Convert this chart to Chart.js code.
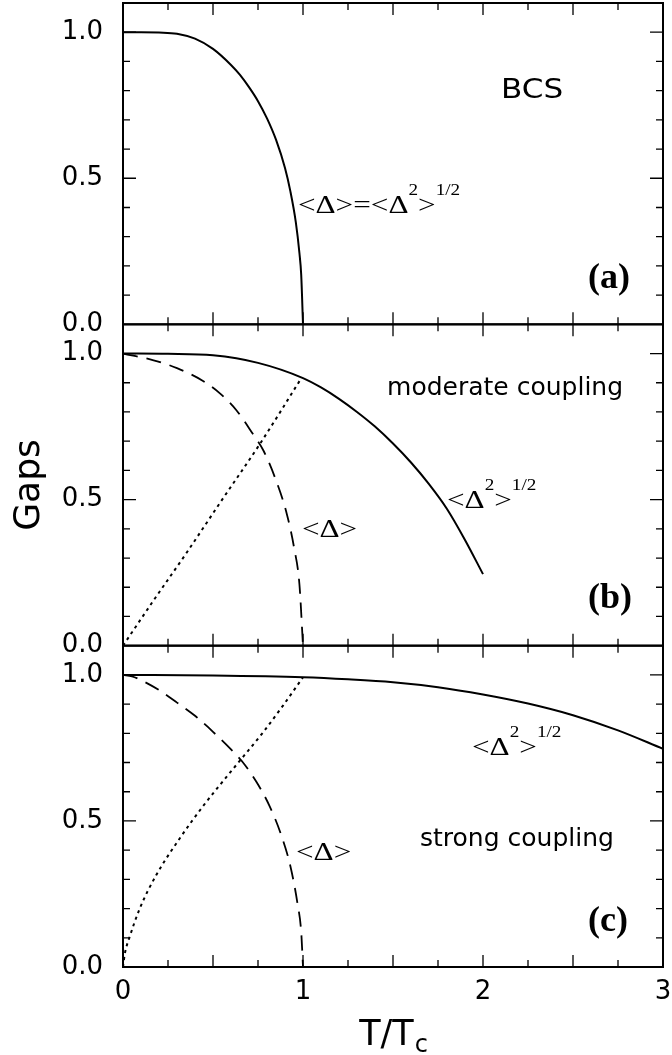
<!DOCTYPE html>
<html>
<head>
<meta charset="utf-8">
<script src="https://cdn.jsdelivr.net/npm/chart.js@4.4.1/dist/chart.umd.min.js"></script>
<style>
  html, body { margin: 0; padding: 0; background: #fff; }
  canvas { display: block; background: #fff; }
</style>
</head>
<body>
<canvas id="gaps-chart" width="672" height="1055"></canvas>
<script>
// T/Tc and gap values, one pair of arrays per curve

// (a) BCS: <Δ> = <Δ²>^1/2
const bcsT   = [0, 0.1, 0.2, 0.3, 0.4, 0.5, 0.6, 0.65, 0.7, 0.75, 0.8, 0.85, 0.9, 0.93, 0.96, 0.98, 0.99, 1.0];
const bcsGap = [1.0, 1.0, 0.999, 0.995, 0.978, 0.943, 0.888, 0.854, 0.812, 0.764, 0.705, 0.632, 0.535, 0.455, 0.35, 0.245, 0.17, 0.0];

// (b) moderate coupling
const modRmsT   = [0, 0.25, 0.5, 0.75, 1.0, 1.1, 1.2, 1.3, 1.4, 1.5, 1.6, 1.7, 1.8, 1.9, 2.0];
const modRmsGap = [1.0, 0.999, 0.994, 0.968, 0.916, 0.884, 0.845, 0.80, 0.75, 0.692, 0.627, 0.553, 0.468, 0.362, 0.245];
const modAvgT   = [0, 0.17, 0.3, 0.44, 0.54, 0.63, 0.72, 0.78, 0.85, 0.91, 0.95, 0.98, 1.0];
const modAvgGap = [1.0, 0.977, 0.95, 0.908, 0.863, 0.806, 0.726, 0.668, 0.566, 0.451, 0.337, 0.211, 0.0];
const modDotT   = [0, 0.17, 0.35, 0.54, 0.76, 0.99];
const modDotGap = [0, 0.155, 0.315, 0.49, 0.69, 0.915];

// (c) strong coupling
const strRmsT   = [0, 0.5, 1.0, 1.25, 1.5, 1.75, 2.0, 2.25, 2.5, 2.75, 3.0];
const strRmsGap = [1.0, 0.998, 0.992, 0.985, 0.975, 0.958, 0.933, 0.902, 0.862, 0.81, 0.747];
const strAvgT   = [0, 0.05, 0.1, 0.2, 0.3, 0.4, 0.5, 0.6, 0.66, 0.74, 0.815, 0.88, 0.93, 0.97, 0.99, 1.0];
const strAvgGap = [1.0, 0.995, 0.982, 0.948, 0.905, 0.86, 0.805, 0.745, 0.705, 0.635, 0.55, 0.45, 0.345, 0.215, 0.12, 0.0];
const strDotT   = [0, 0.01, 0.037, 0.093, 0.185, 0.315, 0.444, 0.574, 0.657, 0.778, 0.889, 1.0];
const strDotGap = [0, 0.045, 0.103, 0.2, 0.315, 0.44, 0.55, 0.65, 0.712, 0.803, 0.895, 0.992];

// tick labels
const xTickStep = 1;     // 0 1 2 3
const yTickStep = 0.5;   // 0.0 0.5 1.0

const serif = "'Liberation Serif', 'Times New Roman', serif";
const sans = "'DejaVu Sans', sans-serif";

// text inside the panels: [text, font size, rise above baseline]
const notes = [
  {axis: 'yA', x: 0.972, y: 0.381, family: serif, sx: 1.2, runs: [['<Δ>=<Δ', 26, 0], ['2', 16, 18], ['>', 26, 0], ['1/2', 16, 18]]},
  {axis: 'yA', x: 2.1, y: 0.775, family: sans, sx: 1.15, runs: [['BCS', 27, 0]]},
  {axis: 'yA', x: 2.583, y: 0.124, family: serif, sx: 1, bold: true, runs: [['(a)', 36, 0]]},
  {axis: 'yB', x: 1.8, y: 0.471, family: serif, sx: 1.2, runs: [['<Δ', 26, 0], ['2', 16, 18], ['>', 26, 0], ['1/2', 16, 18]]},
  {axis: 'yB', x: 0.994, y: 0.372, family: serif, sx: 1.2, runs: [['<Δ>', 26, 0]]},
  {axis: 'yB', x: 1.467, y: 0.858, family: sans, sx: 1, runs: [['moderate coupling', 25, 0]]},
  {axis: 'yB', x: 2.583, y: 0.13, family: serif, sx: 1, bold: true, runs: [['(b)', 36, 0]]},
  {axis: 'yC', x: 1.939, y: 0.726, family: serif, sx: 1.2, runs: [['<Δ', 26, 0], ['2', 16, 18], ['>', 26, 0], ['1/2', 16, 18]]},
  {axis: 'yC', x: 0.961, y: 0.366, family: serif, sx: 1.2, runs: [['<Δ>', 26, 0]]},
  {axis: 'yC', x: 1.65, y: 0.414, family: sans, sx: 1, runs: [['strong coupling', 25, 0]]},
  {axis: 'yC', x: 2.583, y: 0.123, family: serif, sx: 1, bold: true, runs: [['(c)', 36, 0]]}
];

function pts(xs, ys) {
  return xs.map((t, i) => ({x: t, y: ys[i]}));
}

const solid  = {borderColor: '#000', borderWidth: 2, pointRadius: 0, showLine: true, fill: false, cubicInterpolationMode: 'monotone'};
const dashed = {...solid, borderWidth: 1.8, borderDash: [15, 9]};
const dotted = {...solid, borderWidth: 2, borderDash: [3, 4]};

// frame, inward ticks on all four sides, annotations and x title
const gapsFrame = {
  id: 'gapsFrame',
  afterDatasetsDraw(chart) {
    const {ctx, chartArea, scales} = chart;
    const xs = scales.x;
    const left = chartArea.left, right = chartArea.right;
    ctx.save();
    ctx.strokeStyle = '#000';
    ctx.fillStyle = '#000';

    for (const id of ['yA', 'yB', 'yC']) {
      const ys = scales[id];
      const top = ys.top, bottom = ys.bottom;
      ctx.lineWidth = 1.3;
      ctx.beginPath();
      for (let i = 1; i <= 10; i++) {       // y ticks every 0.1
        const py = ys.getPixelForValue(i / 10);
        const len = i % 5 === 0 ? 13 : 7;
        ctx.moveTo(left, py); ctx.lineTo(left + len, py);
        ctx.moveTo(right, py); ctx.lineTo(right - len, py);
      }
      for (let i = 1; i < 12; i++) {        // x ticks every 0.25
        const px = xs.getPixelForValue(i / 4);
        const len = i % 2 === 0 ? 12 : 7;
        ctx.moveTo(px, bottom); ctx.lineTo(px, bottom - len);
        ctx.moveTo(px, top); ctx.lineTo(px, top + len);
      }
      ctx.stroke();
      ctx.lineWidth = 2;
      ctx.strokeRect(left, top, right - left, bottom - top);
    }

    ctx.textAlign = 'left';
    ctx.textBaseline = 'alphabetic';
    for (const n of notes) {
      const px = xs.getPixelForValue(n.x);
      const py = scales[n.axis].getPixelForValue(n.y);
      ctx.save();
      ctx.translate(px, py);
      ctx.scale(n.sx, 1);
      let cx = 0;
      for (const [text, size, rise] of n.runs) {
        ctx.font = (n.bold ? 'bold ' : '') + size + 'px ' + n.family;
        ctx.fillText(text, cx, -rise);
        cx += ctx.measureText(text).width;
      }
      ctx.restore();
    }

    // x axis title T/Tc with subscript
    ctx.font = '35px ' + sans;
    const main = 'T/T';
    const wMain = ctx.measureText(main).width;
    ctx.font = '24px ' + sans;
    const wSub = ctx.measureText('c').width;
    const x0 = (left + right) / 2 - (wMain + wSub) / 2;
    ctx.font = '35px ' + sans;
    ctx.fillText(main, x0, xs.bottom - 10);
    ctx.font = '24px ' + sans;
    ctx.fillText('c', x0 + wMain + 1, xs.bottom - 3);
    ctx.restore();
  }
};

function panelAxis(withTitle) {
  return {
    type: 'linear',
    position: 'left',
    stack: 'gaps',
    stackWeight: 1,
    min: 0,
    max: 1.1,
    grid: {display: false, drawTicks: false},
    border: {display: false},
    ticks: {
      stepSize: yTickStep,
      includeBounds: false,
      padding: 20,
      color: '#000',
      font: {family: sans, size: 26},
      callback: v => v.toFixed(1)
    },
    title: {
      display: withTitle,
      text: 'Gaps',
      color: '#000',
      font: {family: sans, size: 36},
      padding: {top: 8, bottom: 0}
    },
    afterFit: s => { s.width = 123; s.paddingTop = 0; s.paddingBottom = 0; }
  };
}

new Chart(document.getElementById('gaps-chart'), {
  type: 'scatter',
  data: {
    datasets: [
      {...solid,  label: 'BCS', data: pts(bcsT, bcsGap), yAxisID: 'yA'},
      {...solid,  label: 'moderate rms', data: pts(modRmsT, modRmsGap), yAxisID: 'yB'},
      {...dashed, label: 'moderate avg', data: pts(modAvgT, modAvgGap), yAxisID: 'yB'},
      {...dotted, label: 'moderate dot', data: pts(modDotT, modDotGap), yAxisID: 'yB'},
      {...solid,  label: 'strong rms', data: pts(strRmsT, strRmsGap), yAxisID: 'yC'},
      {...dashed, label: 'strong avg', data: pts(strAvgT, strAvgGap), yAxisID: 'yC'},
      {...dotted, label: 'strong dot', data: pts(strDotT, strDotGap), yAxisID: 'yC'}
    ]
  },
  options: {
    responsive: false,
    animation: false,
    devicePixelRatio: 1,
    layout: {padding: {top: 3, right: 9, left: 0, bottom: 0}},
    scales: {
      x: {
        type: 'linear',
        position: 'bottom',
        min: 0,
        max: 3,
        grid: {display: false, drawTicks: false},
        border: {display: false},
        ticks: {
          stepSize: xTickStep,
          padding: 10,
          color: '#000',
          font: {family: sans, size: 26}
        },
        afterFit: s => { s.height = 88; s.paddingLeft = 0; s.paddingRight = 0; }
      },
      // stacked bottom-up: (c) lowest, (a) on top
      yC: panelAxis(false),
      yB: panelAxis(true),
      yA: panelAxis(false)
    },
    plugins: {
      legend: {display: false},
      tooltip: {enabled: false}
    }
  },
  plugins: [gapsFrame]
});
</script>
</body>
</html>
